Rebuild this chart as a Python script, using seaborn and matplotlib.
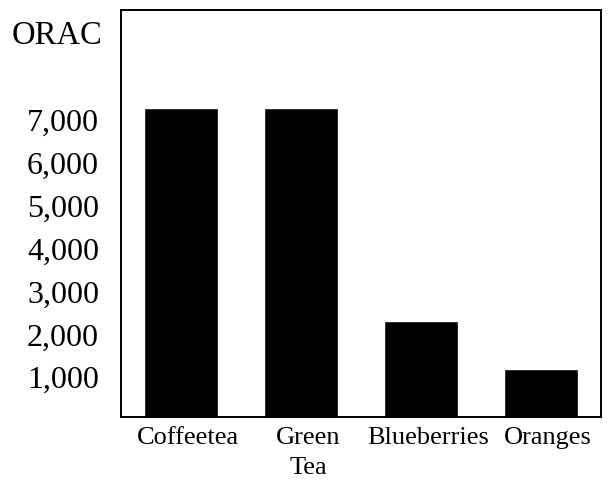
import matplotlib
matplotlib.use("Agg")
import matplotlib.pyplot as plt
import matplotlib.transforms as mtransforms
from matplotlib.ticker import FuncFormatter
import pandas as pd
import seaborn as sns

# ORAC values
foods = ["Coffeetea", "Green\nTea", "Blueberries", "Oranges"]
orac = [7220, 7220, 2250, 1130]
yticks = [1000, 2000, 3000, 4000, 5000, 6000, 7000]

sns.set_theme(style="white")
plt.rcParams['font.family'] = ['Liberation Serif', 'DejaVu Serif']
plt.rcParams['text.color'] = 'black'
plt.rcParams['xtick.color'] = 'black'
plt.rcParams['ytick.color'] = 'black'

df = pd.DataFrame({"Food": foods, "ORAC": orac})

fig = plt.figure(figsize=(6.08, 4.82), dpi=100)
ax = fig.add_axes([121 / 608, 1 - 417 / 482, 480 / 608, 407.5 / 482])

sns.barplot(data=df, x="Food", y="ORAC", color="black", width=0.61,
            saturation=1, ax=ax)

ax.set_xlim(-0.5, 3.5)
ax.set_ylim(0, 9515)
ax.set_yticks(yticks)
ax.yaxis.set_major_formatter(FuncFormatter(lambda v, p: f"{int(v):,}"))
ax.tick_params(axis="y", length=0, pad=15.8, labelsize=23, labelcolor="black")
ax.tick_params(axis="x", length=0, pad=7, labelsize=19, labelcolor="black")
ax.set_xlabel("")
ax.set_ylabel("")

# labels sit a touch off the position they belong to
yoff = mtransforms.ScaledTranslation(0, -3 / 100, fig.dpi_scale_trans)
for lab in ax.get_yticklabels():
    lab.set_transform(lab.get_transform() + yoff)
xoff = mtransforms.ScaledTranslation(7 / 100, 0, fig.dpi_scale_trans)
for lab in ax.get_xticklabels():
    lab.set_transform(lab.get_transform() + xoff)
    lab.set_linespacing(1.5)

for s in ax.spines.values():
    s.set_visible(True)
    s.set_color("black")
    s.set_linewidth(1.4)

fig.text(12 / 608, 1 - 36 / 482, "ORAC", fontsize=23.5, ha="left", va="center",
         color="black")

fig.savefig("out.png", dpi=100, facecolor="white")
